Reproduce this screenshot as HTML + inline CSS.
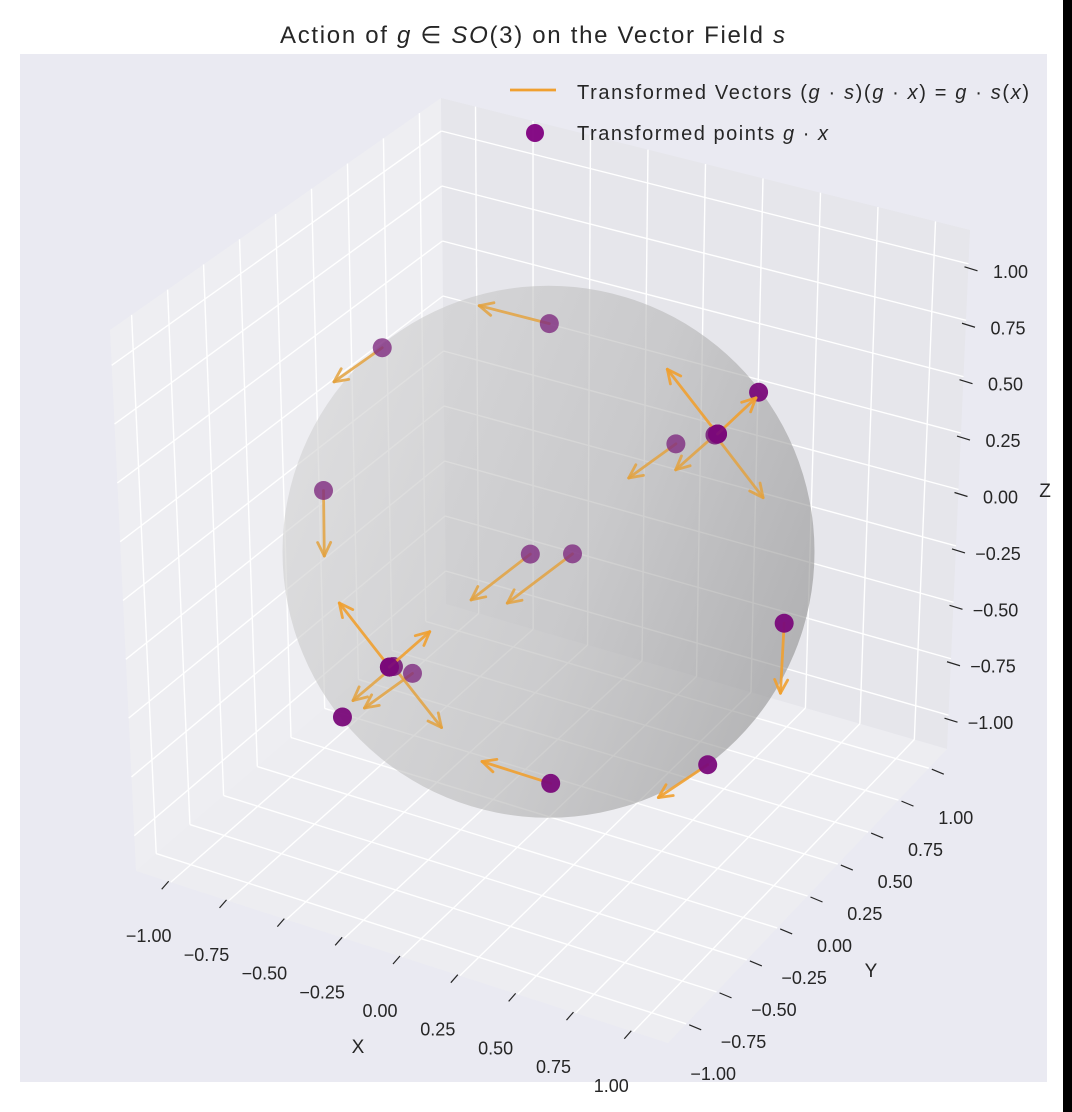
<!DOCTYPE html>
<html><head><meta charset="utf-8"><style>
html,body{margin:0;padding:0;background:#fff;}
svg{display:block;font-family:"Liberation Sans",Arial,sans-serif;}
</style></head><body>
<svg id="chart" width="1072" height="1112" viewBox="0 0 1072 1112" xmlns="http://www.w3.org/2000/svg">
<rect x="0" y="0" width="1072" height="1112" fill="#ffffff"/>
<rect x="1063" y="0" width="9" height="1112" fill="#000"/>
<rect x="20" y="54" width="1027" height="1028" fill="#eaeaf2"/>
<text x="280" y="43" font-size="24" fill="#262626" textLength="505" lengthAdjust="spacing">Action of <tspan font-style="italic">g</tspan> ∈ <tspan font-style="italic">SO</tspan>(3) on the Vector Field <tspan font-style="italic">s</tspan></text>
<g id="panes"></g><g id="grid"></g><g id="sphere"></g><g id="back"></g><g id="front"></g><g id="axes"></g>
<g>
<line x1="510" y1="90" x2="556" y2="90" stroke="#f0a030" stroke-width="2.8"/>
<text x="577" y="99" font-size="20" fill="#262626" textLength="452" lengthAdjust="spacing">Transformed Vectors (<tspan font-style="italic">g</tspan> · <tspan font-style="italic">s</tspan>)(<tspan font-style="italic">g</tspan> · <tspan font-style="italic">x</tspan>) = <tspan font-style="italic">g</tspan> · <tspan font-style="italic">s</tspan>(<tspan font-style="italic">x</tspan>)</text>
<circle cx="535" cy="133" r="9" fill="#800080" fill-opacity="0.95"/>
<text x="577" y="140" font-size="20" fill="#262626" textLength="251" lengthAdjust="spacing">Transformed points <tspan font-style="italic">g</tspan> · <tspan font-style="italic">x</tspan></text>
</g>
</svg>
<script>
// data: points on sphere and vectors
const px = [-0.43,-0.782,0.591,0.712,0.712,0.159,0.159,-0.021,-0.998,-0.494,-0.353,-0.118,-0.118,-0.698,-0.698,-0.647,-0.521,0.433,0.722,0.998];
const py = [0.74,0.122,0.550,0.020,0.020,0.984,0.984,0.997,0.036,0.705,0.785,-0.991,-0.991,0.021,0.021,0.076,-0.657,-0.756,-0.041,0.045];
const pz = [0.52,0.610,0.587,0.700,0.700,0.062,0.062,-0.033,-0.038,-0.507,-0.507,-0.044,-0.044,-0.714,-0.714,-0.757,-0.541,-0.486,-0.690,-0.047];
const vx = [-0.245,-0.122,0.13,-0.223,0.090,0.225,-0.096,-0.123,0.062,-0.153,-0.170,-0.213,0.098,0.214,-0.102,-0.127,0.13,-0.242,-0.135,0.053];
const vy = [-0.100,-0.146,-0.23,0.012,0.129,-0.011,-0.131,-0.145,-0.107,-0.188,-0.205,0.011,0.133,-0.008,-0.133,-0.148,-0.23,-0.094,-0.146,-0.118];
const vz = [0.061,-0.116,0.15,0.212,0.118,-0.212,-0.114,-0.112,-0.217,-0.151,-0.162,0.202,0.115,-0.199,-0.112,-0.114,0.15,0.067,-0.104,-0.224];
const ticks = [-1,-0.75,-0.5,-0.25,0,0.25,0.5,0.75,1];
const tickLabels = ["\u22121.00","\u22120.75","\u22120.50","\u22120.25","0.00","0.25","0.50","0.75","1.00"];

const NS="http://www.w3.org/2000/svg";
const L=1.15;
const C=[[[[136,871],[110,330]],[[446,604],[441,98]]],[[[668,1043],[670,489]],[[947,749],[970,230]]]];
function proj(x,y,z){
  const tx=(x+L)/(2*L), ty=(y+L)/(2*L), tz=(z+L)/(2*L);
  let sx=0,sy=0;
  for(let i=0;i<2;i++)for(let j=0;j<2;j++)for(let k=0;k<2;k++){
    const w=(i?tx:1-tx)*(j?ty:1-ty)*(k?tz:1-tz);
    sx+=w*C[i][j][k][0]; sy+=w*C[i][j][k][1];
  }
  return [sx,sy];
}
function mk(tag,attrs,parent){const e=document.createElementNS(NS,tag);for(const a in attrs)e.setAttribute(a,attrs[a]);parent.appendChild(e);return e;}
const gP=document.getElementById('panes'),gG=document.getElementById('grid'),gB=document.getElementById('back'),gS=document.getElementById('sphere'),gF=document.getElementById('front'),gA=document.getElementById('axes');
function poly(pts){return pts.map(p=>p[0].toFixed(1)+','+p[1].toFixed(1)).join(' ');}
let e;
e=mk('polygon',{points:poly([proj(-L,-L,-L),proj(-L,L,-L),proj(-L,L,L),proj(-L,-L,L)]),fill:'#eeeef2'},gP);


e=mk('polygon',{points:poly([proj(-L,L,-L),proj(L,L,-L),proj(L,L,L),proj(-L,L,L)]),fill:'#e6e6eb'},gP);


e=mk('polygon',{points:poly([proj(-L,-L,-L),proj(L,-L,-L),proj(L,L,-L),proj(-L,L,-L)]),fill:'#ededf1'},gP);


function gl(a,b){const l=mk('line',{x1:a[0],y1:a[1],x2:b[0],y2:b[1],stroke:'#ffffff','stroke-width':1.4},gG);

}
ticks.forEach(t=>{
  gl(proj(-L,t,-L),proj(-L,t,L)); gl(proj(-L,-L,t),proj(-L,L,t));
  gl(proj(t,L,-L),proj(t,L,L)); gl(proj(-L,L,t),proj(L,L,t));
  gl(proj(t,-L,-L),proj(t,L,-L)); gl(proj(-L,t,-L),proj(L,t,-L));
});
const defs=mk('defs',{},gS);
const lg=mk('linearGradient',{id:'sg',x1:'0',y1:'0.2',x2:'1',y2:'0.6'},defs);
mk('stop',{offset:'0','stop-color':'#d4d4d4'},lg);
mk('stop',{offset:'0.6','stop-color':'#b6b6b6'},lg);
mk('stop',{offset:'1','stop-color':'#909090'},lg);
const c0=proj(0,0,0);
e=mk('circle',{cx:c0[0],cy:c0[1],r:266,fill:'url(#sg)','fill-opacity':0.6},gS);


for(let i=0;i<px.length;i++){
  const depth=0.431*px[i]-0.751*py[i]+0.497*pz[i];
  const isFront=depth>=-0.05;
  const g=isFront?gF:gB;
  const a=proj(px[i],py[i],pz[i]);
  const b=proj(px[i]+vx[i],py[i]+vy[i],pz[i]+vz[i]);
  const dx=b[0]-a[0],dy=b[1]-a[1],len=Math.hypot(dx,dy);
  const grp=mk('g',{},g);
  
  
  if(len>8){
    const st={stroke:isFront?'#f0a030':'#e3a240','stroke-width':2.8,'stroke-opacity':isFront?0.9:0.85,'stroke-linecap':'round'};
    mk('line',Object.assign({x1:a[0],y1:a[1],x2:b[0],y2:b[1]},st),grp);
    const ux=dx/len,uy=dy/len,h=15,ang=0.45;
    [ang,-ang].forEach(s=>{
      const cs=Math.cos(s),sn=Math.sin(s);
      const hx=-(ux*cs-uy*sn)*h,hy=-(ux*sn+uy*cs)*h;
      mk('line',Object.assign({x1:b[0],y1:b[1],x2:b[0]+hx,y2:b[1]+hy},st),grp);
    });
  }
  const pt=mk('circle',{cx:a[0],cy:a[1],r:9.5,fill:isFront?'#7a0a7a':'#7e2a80','fill-opacity':isFront?0.95:0.8},g);
  
  
}
function txt(x,y,s,anchor,size,name){const t=mk('text',{x:x,y:y,'font-size':size,'text-anchor':anchor,fill:'#262626'},gA);t.textContent=s;

return t;}
function tk(a,b,name){const l=mk('line',{x1:a[0],y1:a[1],x2:b[0],y2:b[1],stroke:'#262626','stroke-width':1.2},gA);

}
ticks.forEach((t,i)=>{
  let p=proj(t,-L,-L);
  tk([p[0]-2,p[1]-1],[p[0]-9,p[1]+7],'x-tick');
  txt(p[0]-22,p[1]+60,tickLabels[i],'middle',18,'x-tick-label');
  p=proj(L,t,-L);
  tk([p[0]+3,p[1]+1],[p[0]+15,p[1]+6],'y-tick');
  txt(p[0]+27,p[1]+56,tickLabels[i],'middle',18,'y-tick-label');
  p=proj(L,L,t);
  tk([p[0]-4,p[1]+3],[p[0]+9,p[1]+7],'z-tick');
  txt(p[0]+42,p[1]+14,tickLabels[i],'middle',18,'z-tick-label');
});
txt(358,1053,'X','middle',19,'x-axis-title');
txt(871,977,'Y','middle',19,'y-axis-title');
txt(1045,497,'Z','middle',19,'z-axis-title');
</script>
</body></html>
